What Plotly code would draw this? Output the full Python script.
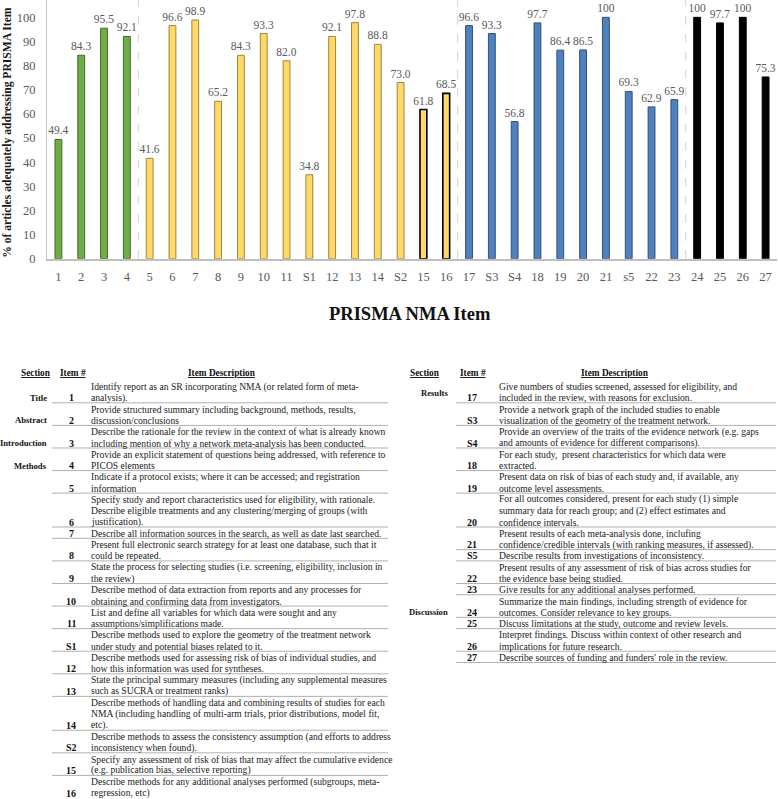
import plotly.graph_objects as go

W, H = 778, 799
SERIF = "Liberation Serif, Times New Roman, serif"

# ---------------- chart data ----------------
items = ["1", "2", "3", "4", "5", "6", "7", "8", "9", "10", "11", "S1", "12", "13", "14", "S2",
         "15", "16", "17", "S3", "S4", "18", "19", "20", "21", "s5", "22", "23", "24", "25", "26", "27"]
values = [49.4, 84.3, 95.5, 92.1, 41.6, 96.6, 98.9, 65.2, 84.3, 93.3, 82.0, 34.8, 92.1, 97.8, 88.8, 73.0,
          61.8, 68.5, 96.6, 93.3, 56.8, 97.7, 86.4, 86.5, 100, 69.3, 62.9, 65.9, 100, 97.7, 100, 75.3]
sections = (["intro"] * 4 + ["methods"] * 14 + ["results"] * 10 + ["discussion"] * 4)
black_outline_items = ["15", "16"]

fill_colors = {"intro": "#70AD47", "methods": "#FFD966", "results": "#4F81BD", "discussion": "#000000"}
line_colors = {"intro": "#3F6A28", "methods": "#9C8440", "results": "#2F4F80", "discussion": "#000000"}

y_ticks = [0, 10, 20, 30, 40, 50, 60, 70, 80, 90, 100]

# ---------------- table data ----------------
left_items = ["1", "2", "3", "4", "5", "6", "7", "8", "9", "10", "11", "S1", "12", "13", "14", "S2", "15", "16"]
left_sections = ["Title", "Abstract", "Introduction", "Methods"] + [""] * 14
left_desc = [
    ["Identify report as an SR incorporating NMA (or related form of meta-", "analysis)."],
    ["Provide structured summary including background, methods, results,", "discussion/conclusions"],
    ["Describe the rationale for the review in the context of what is already known",
     "including mention of why a network meta-analysis has been conducted."],
    ["Provide an explicit statement of questions being addressed, with reference to", "PICOS elements"],
    ["Indicate if a protocol exists; where it can be accessed; and registration", "information"],
    ["Specify study and report characteristics used for eligibility, with rationale.",
     "Describe eligible treatments and any clustering/merging of groups (with", "justification)."],
    ["Describe all information sources in the search, as well as date last searched."],
    ["Present full electronic search strategy for at least one database, such that it", "could be repeated."],
    ["State the process for selecting studies (i.e. screening, eligibility, inclusion in", "the review)"],
    ["Describe method of data extraction from reports and any processes for",
     "obtaining and confirming data from investigators."],
    ["List and define all variables for which data were sought and any", "assumptions/simplifications made."],
    ["Describe methods used to explore the geometry of the treatment network",
     "under study and potential biases related to it."],
    ["Describe methods used for assessing risk of bias of individual studies, and",
     "how this information was used for syntheses."],
    ["State the principal summary measures (including any supplemental measures",
     "such as SUCRA or treatment ranks)"],
    ["Describe methods of handling data and combining results of studies for each",
     "NMA (including handling of multi-arm trials, prior distributions, model fit,", "etc)."],
    ["Describe methods to assess the consistency assumption (and efforts to address",
     "inconsistency when found)."],
    ["Specify any assessment of risk of bias that may affect the cumulative evidence",
     "(e.g. publication bias, selective reporting)"],
    ["Describe methods for any additional analyses performed (subgroups, meta-", "regression, etc)"],
]

right_items = ["17", "S3", "S4", "18", "19", "20", "21", "S5", "22", "23", "24", "25", "26", "27"]
right_sections = ["Results"] + [""] * 9 + ["Discussion"] + [""] * 3
right_desc = [
    ["Give numbers of studies screened, assessed for eligibility, and",
     "included in the review, with reasons for exclusion."],
    ["Provide a network graph of the included studies to enable",
     "visualization of the geometry of the treatment network."],
    ["Provide an overview of the traits of the evidence network (e.g. gaps",
     "and amounts of evidence for different comparisons)."],
    ["For each study,  present characteristics for which data were", "extracted."],
    ["Present data on risk of bias of each study and, if available, any", "outcome level assessments."],
    ["For all outcomes considered, present for each study (1) simple",
     "summary data for reach group; and (2) effect estimates and", "confidence intervals."],
    ["Present results of each meta-analysis done, inclufing",
     "confidence/credible intervals (with ranking measures, if assessed)."],
    ["Describe results from investigations of inconsistency."],
    ["Present results of any assessment of risk of bias across studies for", "the evidence base being studied."],
    ["Give results for any additional analyses performed."],
    ["Summarize the main findings, including strength of evidence for",
     "outcomes. Consider relevance to key groups."],
    ["Discuss limitations at the study, outcome and review levels."],
    ["Interpret findings. Discuss within context of other research and",
     "implications for future research."],
    ["Describe sources of funding and funders' role in the review."],
]
header_labels = ["Section", "Item #", "Item Description"]


def px(x):
    return x / W


def py(y):
    return 1 - y / H


# ---------------- bar chart ----------------
labels = [f"{v:.1f}" if v < 100 else f"{v:.0f}" for v in values]
mcolors = [fill_colors[s] for s in sections]
lcolors = ["#000000" if it in black_outline_items else line_colors[s] for it, s in zip(items, sections)]
lwidths = [1.6 if it in black_outline_items else 1 for it in items]

fig = go.Figure()
fig.add_trace(go.Bar(
    x=items, y=values, width=0.3,
    marker=dict(color=mcolors, line=dict(color=lcolors, width=lwidths)),
    text=labels, textposition="outside", cliponaxis=False, constraintext="none",
    textfont=dict(family=SERIF, size=11.5, color="#595959"),
    hoverinfo="x+y", showlegend=False,
))

y_bottom_px, y_top_px = 261, 0
shapes = []
# dashed separators between sections
for i in range(1, len(sections)):
    if sections[i] != sections[i - 1]:
        shapes.append(dict(type="line", xref="x", yref="paper", x0=i - 0.5, x1=i - 0.5,
                           y0=py(y_bottom_px), y1=py(y_top_px),
                           line=dict(color="#D0D0D0", width=1, dash="dash")))

annotations = []
# axis titles
annotations.append(dict(text="<b>% of articles adequately addressing PRISMA Item</b>", xref="paper", yref="paper",
                        x=px(8), y=py(134), textangle=-90, showarrow=False, xanchor="center", yanchor="middle",
                        font=dict(family=SERIF, size=11.6, color="#1a1a1a")))
annotations.append(dict(text="<b>PRISMA NMA Item</b>", xref="paper", yref="paper",
                        x=px(410), y=py(317), showarrow=False, xanchor="center", yanchor="middle",
                        font=dict(family=SERIF, size=18.5, color="#111111")))

# ---------------- tables ----------------
LINE0 = 390
LH = 11.39
DESC_FONT = dict(family=SERIF, size=9.6, color="#222222")
ITEM_FONT = dict(family=SERIF, size=10, color="#111111")
SEC_FONT = dict(family=SERIF, size=8.6, color="#111111")


def build_table(sec_list, item_list, desc_list, sec_right, item_cx, desc_x, line_x0, line_x1,
                header_cx, sec_dy):
    hdr_y = 376.5
    for lab, cx in zip(header_labels, header_cx):
        annotations.append(dict(text=f"<b><u>{lab}</u></b>", xref="paper", yref="paper", x=px(cx), y=py(hdr_y),
                                showarrow=False, xanchor="center", yanchor="middle",
                                font=dict(family=SERIF, size=9.3, color="#111111")))
    k = 0
    for sec, it, desc in zip(sec_list, item_list, desc_list):
        for j, line in enumerate(desc):
            annotations.append(dict(text=line, xref="paper", yref="paper", x=px(desc_x), y=py(LINE0 + (k + j) * LH),
                                    showarrow=False, xanchor="left", yanchor="middle", font=DESC_FONT))
        last_y = LINE0 + (k + len(desc) - 1) * LH
        annotations.append(dict(text=f"<b>{it}</b>", xref="paper", yref="paper", x=px(item_cx), y=py(last_y),
                                showarrow=False, xanchor="center", yanchor="middle", font=ITEM_FONT))
        if sec:
            annotations.append(dict(text=f"<b>{sec}</b>", xref="paper", yref="paper", x=px(sec_right),
                                    y=py(last_y + sec_dy.get(sec, 0)),
                                    showarrow=False, xanchor="right", yanchor="middle", font=SEC_FONT))
        sep_y = last_y + 5
        if sep_y < H - 2:
            shapes.append(dict(type="line", xref="paper", yref="paper", x0=px(line_x0), x1=px(line_x1),
                               y0=py(sep_y), y1=py(sep_y), line=dict(color="#B0B0B0", width=1)))
        k += len(desc)


build_table(left_sections, left_items, left_desc, sec_right=49, item_cx=71, desc_x=89,
            line_x0=52, line_x1=388, header_cx=[36, 73, 222], sec_dy={})
build_table(right_sections, right_items, right_desc, sec_right=450, item_cx=472, desc_x=497,
            line_x0=456, line_x1=776, header_cx=[425, 473, 615], sec_dy={"Results": -5})

fig.update_layout(
    width=W, height=H,
    margin=dict(l=0, r=0, t=0, b=0),
    paper_bgcolor="white", plot_bgcolor="white",
    font=dict(family=SERIF),
    bargap=0.7,
    xaxis=dict(domain=[px(47), px(777)], type="category", showgrid=False, zeroline=False,
               showline=True, linecolor="#BFBFBF", linewidth=2, ticks="",
               tickfont=dict(family=SERIF, size=12.5, color="#595959"), ticklabelstandoff=5,
               tickangle=0),
    yaxis=dict(domain=[py(y_bottom_px), py(y_top_px)], range=[0, 261 / 2.435], tickvals=y_ticks,
               showgrid=False, zeroline=False, showline=True, linecolor="#C8C8C8", linewidth=1,
               ticks="", tickfont=dict(family=SERIF, size=12.5, color="#595959"), ticklabelstandoff=8),
    shapes=shapes,
    annotations=annotations,
)

fig.write_html("out.html", config={"displayModeBar": False},
               post_script="document.body.style.margin='0';document.body.style.overflow='hidden';")
